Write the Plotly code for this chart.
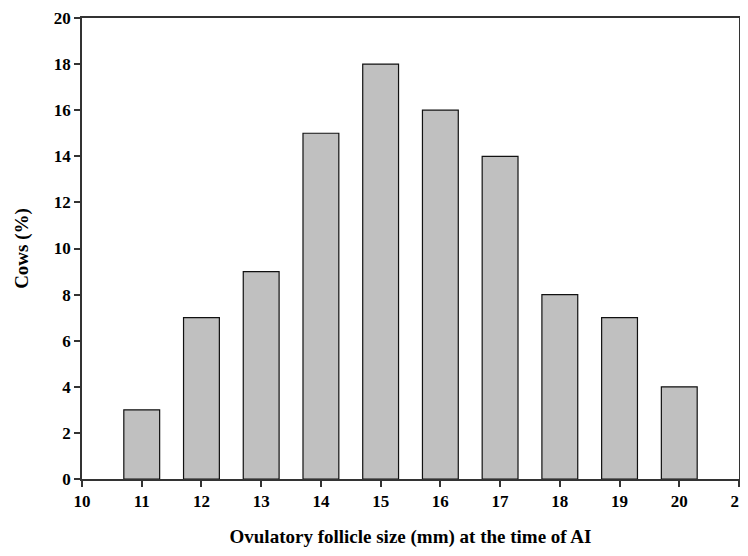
import plotly.graph_objects as go

sizes = [11, 12, 13, 14, 15, 16, 17, 18, 19, 20]
cows_pct = [3, 7, 9, 15, 18, 16, 14, 8, 7, 4]
x_ticks = list(range(10, 22))
y_ticks = list(range(0, 21, 2))

font_family = "Liberation Serif, Times New Roman, serif"

fig = go.Figure()
fig.add_trace(go.Bar(
    x=sizes, y=cows_pct, width=0.6,
    marker=dict(color="#c0c0c0", line=dict(color="#111111", width=1.2)),
))

# page body has an 8px default margin, so the figure is sized to fit the window
fig.update_layout(
    width=740, height=540,
    margin=dict(l=74, r=9, t=10, b=69),
    plot_bgcolor="white", paper_bgcolor="white",
    showlegend=False,
    font=dict(family=font_family, color="black"),
)
fig.update_xaxes(
    range=[10, 21], tickvals=x_ticks, ticktext=[f"<b>{v}</b>" for v in x_ticks],
    ticks="outside", ticklen=6, tickwidth=1.5, tickcolor="#333",
    showline=True, linecolor="#333", linewidth=1.5, mirror=True,
    showgrid=False, zeroline=False, automargin=False,
    ticklabeloverflow="allow",
    tickfont=dict(size=17, family=font_family),
    title=dict(text="<b>Ovulatory follicle size (mm) at the time of AI</b>",
               font=dict(size=19, family=font_family), standoff=22),
)
fig.update_yaxes(
    range=[0, 20], tickvals=y_ticks, ticktext=[f"<b>{v}</b>" for v in y_ticks],
    ticks="outside", ticklen=6, tickwidth=1.5, tickcolor="#333",
    showline=True, linecolor="#333", linewidth=1.5, mirror=True,
    showgrid=False, zeroline=False, automargin=False,
    tickfont=dict(size=17, family=font_family),
    title=dict(text="<b>Cows (%)</b>", font=dict(size=19, family=font_family), standoff=20),
)

fig.write_html("out.html")
